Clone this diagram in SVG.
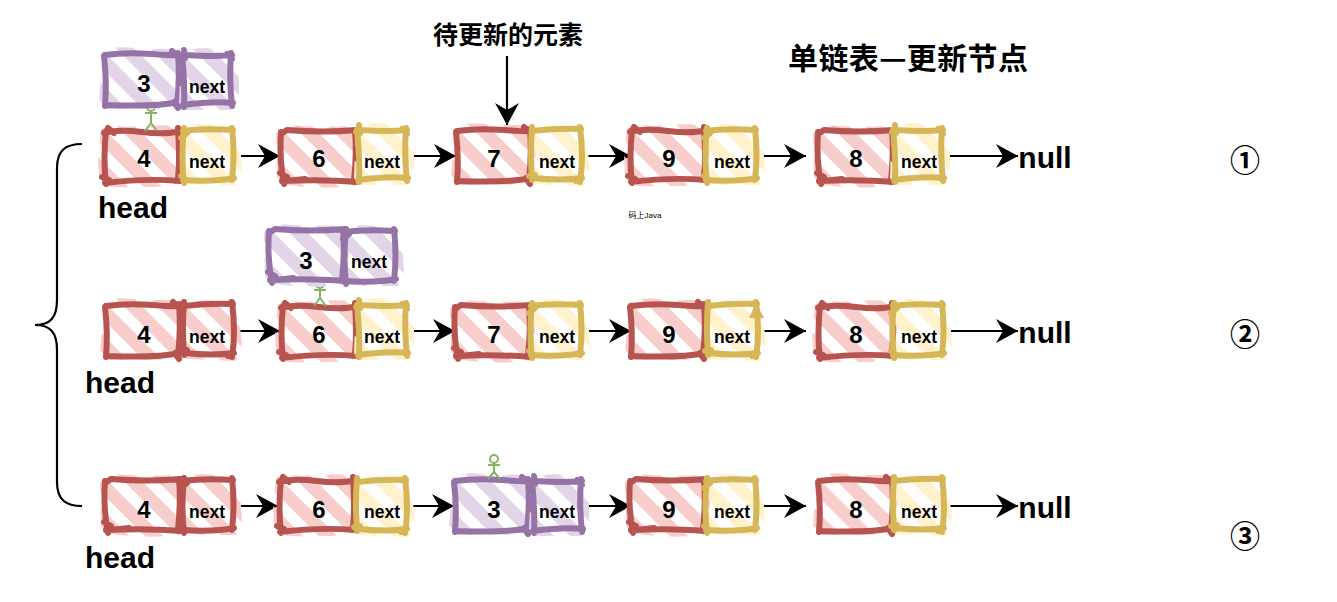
<svg xmlns="http://www.w3.org/2000/svg" width="1337" height="602" viewBox="0 0 1337 602">
<style>
text{font-family:"Liberation Sans","Noto Sans CJK SC",sans-serif;font-weight:700;fill:#000;text-anchor:middle}
.cjk{font-family:"Noto Sans CJK SC","Liberation Sans",sans-serif}
.num{font-size:24px}.nx{font-size:17.5px}.big{font-size:30px}
.f{stroke:none}
.s{fill:none;stroke-width:6;stroke-linecap:round;stroke-linejoin:round}
.red{stroke:#b85450;fill:url(#hr)}
.yel{stroke:#d6b656;fill:url(#hy)}
.pur{stroke:#9673a6;fill:url(#hp)}
.c{fill:none;stroke:#000;stroke-width:2.2}
.a{marker-end:url(#ah)}
.act{fill:none;stroke:#82b366;stroke-width:2}
</style>
<defs>
<pattern id="hr" width="24" height="24" patternUnits="userSpaceOnUse" patternTransform="rotate(45)"><rect width="24" height="13" fill="#f8cecc"/></pattern>
<pattern id="hy" width="24" height="24" patternUnits="userSpaceOnUse" patternTransform="rotate(45)"><rect width="24" height="13" fill="#fff2cc"/></pattern>
<pattern id="hp" width="24" height="24" patternUnits="userSpaceOnUse" patternTransform="rotate(45)"><rect width="24" height="13" fill="#e1d5e7"/></pattern>
<marker id="ah" markerUnits="userSpaceOnUse" markerWidth="24" markerHeight="26" refX="22" refY="12" orient="auto"><path d="M0 0L22 12L0 24L7 12Z" fill="#000"/></marker>
<g id="bA"><path class="f" d="M-5 -2Q6 -7 20 -4Q50 -7 70 -5L78 4L76 48L68 55Q40 57 6 56L-7 47L-8 24Z"/><path class="s" d="M-2 2Q12 -2 36 1T74 0M2 -3L8 2M72 -3Q74 28 72 48M74 50Q40 47 -1 52M0 53Q-3 28 0 0M-4 46L3 49"/></g>
<g id="bB"><path class="f" d="M-3 -5Q20 -9 40 -4Q60 -7 72 -3L78 8L77 50L70 56Q40 53 2 55L-7 47Z"/><path class="s" d="M-1 1Q20 -2 46 0T74 1M72 -1Q74 24 71 50M73 48Q50 53 0 51M-1 52Q1 28 -2 2M66 -3L73 3M68 48L72 54"/></g>
<g id="bC"><path class="f" d="M-7 2L4 -6Q40 -3 70 -5L78 2L78 46L72 55Q40 59 4 54L-6 50Z"/><path class="s" d="M-2 3L4 -1Q40 2 74 -1M72 0Q74 20 71 50M73 51Q40 48 -1 50M1 53Q-4 28 -2 1M-3 42L4 46M3 50L22 48"/></g>
<g id="sA"><path class="f" d="M0 -5Q20 -7 46 -4L56 8L58 42L52 55L20 55L-2 53Z"/><path class="s" d="M-1 1Q20 -2 49 0M48 -2Q51 24 48 50M50 48Q30 52 -1 50M0 53Q-3 28 0 -2M-3 8L3 3M-3 46L2 50"/></g>
<g id="sB"><path class="f" d="M-2 -5L22 -7L44 -4L56 10L56 44L48 55L2 55L-4 49Z"/><path class="s" d="M-2 2L4 0Q28 2 49 0M48 -2Q46 24 49 51M50 48Q30 46 0 50M1 52Q2 28 -1 0M1 -5L2 3M44 -1L49 4"/></g>
<g id="sC"><path class="f" d="M-2 -3L46 -6L54 6L58 38L52 56L2 54L-3 46Z"/><path class="s" d="M0 1Q26 -2 49 -1M48 -3Q52 28 48 52M50 48Q30 51 1 48M-3 46L3 45M0 -3Q-2 22 0 50M44 51L49 46"/></g>
</defs>

<g id="connectors">
<path class="c" d="M82 144C66 144 57 150 57 168L57 300C57 318 50 325 35 325C50 325 57 332 57 350L57 482C57 500 66 506 82 506"/>
<path class="c a" d="M507 56L507 125"/>
<path class="c a" d="M235 156L280 156"/><path class="c a" d="M411 156L456 156"/><path class="c a" d="M583 156L631 156"/><path class="c a" d="M759 156L806 156"/><path class="c a" d="M945 156L1018 156"/>
<path class="c a" d="M235 331L280 331"/><path class="c a" d="M411 331L455 331"/><path class="c a" d="M583 331L631 331"/><path class="c a" d="M759 331L806 331"/><path class="c a" d="M945 331L1018 331"/>
<path class="c a" d="M235 506L278 506"/><path class="c a" d="M411 506L454 506"/><path class="c a" d="M585 506L631 506"/><path class="c a" d="M759 506L806 506"/><path class="c a" d="M945 506L1018 506"/>
</g>

<g id="n1-4"><use href="#bA" class="red" x="106" y="131"/><use href="#sA" class="yel" x="184" y="130"/><text class="num" x="144" y="167">4</text><text class="nx" x="207" y="168">next</text></g>
<g id="actor-1" class="act"><circle cx="151" cy="107" r="4"/><path d="M151 111V123M145 113H157M151 123L145 131M151 123L157 131"/></g>
<g id="n1-3"><use href="#bB" class="pur" x="106" y="54"/><use href="#sB" class="pur" x="183" y="55"/><text class="num" x="144" y="92">3</text><text class="nx" x="207" y="93">next</text></g>
<g id="n1-6"><use href="#bC" class="red" x="283" y="131"/><use href="#sB" class="yel" x="358" y="130"/><text class="num" x="319" y="167">6</text><text class="nx" x="382" y="168">next</text></g>
<g id="n1-7"><use href="#bB" class="red" x="458" y="130"/><use href="#sC" class="yel" x="532" y="130"/><text class="num" x="494" y="167">7</text><text class="nx" x="557" y="168">next</text></g>
<g id="n1-9"><use href="#bA" class="red" x="632" y="130"/><use href="#sA" class="yel" x="707" y="130"/><text class="num" x="669" y="167">9</text><text class="nx" x="732" y="168">next</text></g>
<g id="n1-8"><use href="#bC" class="red" x="820" y="131"/><use href="#sB" class="yel" x="894" y="130"/><text class="num" x="856" y="167">8</text><text class="nx" x="919" y="168">next</text></g>
<text class="big" x="133" y="218">head</text>
<text class="cjk" style="font-size:25px" x="508" y="44">待更新的元素</text>
<text class="cjk" style="font-size:30px" x="908" y="69" textLength="240">单链表—更新节点</text>
<text style="font-size:8px;font-weight:400" x="645" y="218">码上Java</text>

<g id="n2-6"><use href="#bA" class="red" x="283" y="306"/><use href="#sB" class="yel" x="358" y="305"/><text class="num" x="319" y="343">6</text><text class="nx" x="382" y="343">next</text></g>
<g id="actor-2" class="act"><circle cx="320" cy="284" r="4"/><path d="M320 288V298M314 290H326M320 298L314 306M320 298L326 306"/></g>
<g id="n2-3"><use href="#bC" class="pur" x="271" y="230"/><use href="#sA" class="pur" x="346" y="231"/><text class="num" x="306" y="269">3</text><text class="nx" x="369" y="268">next</text></g>
<g id="n2-4"><use href="#bB" class="red" x="107" y="305"/><use href="#sC" class="red" x="184" y="305"/><text class="num" x="144" y="343">4</text><text class="nx" x="207" y="343">next</text></g>
<g id="n2-7"><use href="#bC" class="red" x="457" y="306"/><use href="#sA" class="yel" x="532" y="305"/><text class="num" x="494" y="343">7</text><text class="nx" x="557" y="343">next</text></g>
<g id="n2-9"><use href="#bB" class="red" x="632" y="305"/><use href="#sC" class="yel" x="708" y="305"/><path d="M756 303L764 318L749 318Z" fill="#d6b656"/><text class="num" x="669" y="343">9</text><text class="nx" x="732" y="343">next</text></g>
<g id="n2-8"><use href="#bA" class="red" x="820" y="306"/><use href="#sA" class="yel" x="894" y="305"/><text class="num" x="856" y="343">8</text><text class="nx" x="919" y="343">next</text></g>
<text class="big" x="120" y="393">head</text>

<g id="n3-4"><use href="#bC" class="red" x="107" y="480"/><use href="#sA" class="red" x="184" y="480"/><text class="num" x="144" y="518">4</text><text class="nx" x="207" y="518">next</text></g>
<g id="n3-6"><use href="#bA" class="red" x="281" y="480"/><use href="#sC" class="yel" x="357" y="481"/><text class="num" x="319" y="518">6</text><text class="nx" x="382" y="518">next</text></g>
<g id="n3-3"><use href="#bB" class="pur" x="456" y="480"/><use href="#sB" class="pur" x="533" y="481"/><text class="num" x="494" y="518">3</text><text class="nx" x="557" y="518">next</text></g>
<g id="actor-3" class="act"><circle cx="494" cy="459" r="4"/><path d="M494 463V472M488 465H500M494 472L488 479M494 472L500 479"/></g>
<g id="n3-9"><use href="#bC" class="red" x="632" y="480"/><use href="#sA" class="yel" x="707" y="480"/><text class="num" x="669" y="518">9</text><text class="nx" x="732" y="518">next</text></g>
<g id="n3-8"><use href="#bB" class="red" x="820" y="480"/><use href="#sC" class="yel" x="894" y="480"/><text class="num" x="856" y="518">8</text><text class="nx" x="919" y="518">next</text></g>
<text class="big" x="120" y="568">head</text>

<text class="big" x="1045" y="168">null</text><text class="big" x="1045" y="343">null</text><text class="big" x="1045" y="518">null</text>
<text class="cjk" style="font-size:30px" x="1245" y="171">①</text>
<text class="cjk" style="font-size:30px" x="1245" y="345">②</text>
<text class="cjk" style="font-size:30px" x="1245" y="547">③</text>
</svg>
